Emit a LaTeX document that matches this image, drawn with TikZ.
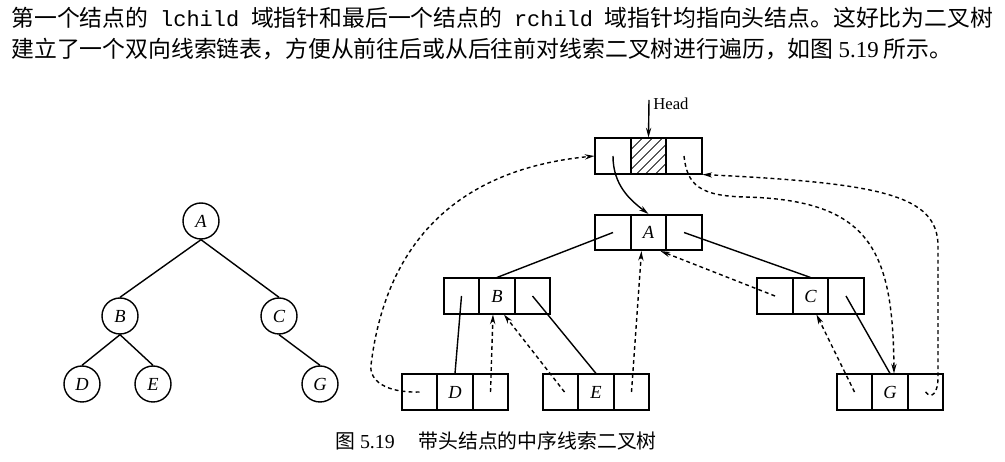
\documentclass[tikz,border=0pt]{standalone}
\usepackage{fontspec}
\setmainfont{Liberation Serif}
\setmonofont{Liberation Mono}
\newfontfamily\cjk{Noto Sans CJK SC}
\usetikzlibrary{calc,arrows.meta,patterns.meta}
\tikzset{
  tbox/.style={draw,line width=0.9pt,minimum width=2.13cm,minimum height=0.71cm,inner sep=0pt,
    font=\fontsize{10.5}{12}\selectfont\itshape,
    path picture={
      \draw[line width=0.9pt] ($(path picture bounding box.south west)!1/3!(path picture bounding box.south east)$) -- ($(path picture bounding box.north west)!1/3!(path picture bounding box.north east)$);
      \draw[line width=0.9pt] ($(path picture bounding box.south west)!2/3!(path picture bounding box.south east)$) -- ($(path picture bounding box.north west)!2/3!(path picture bounding box.north east)$);
    }},
  tnode/.style={draw,circle,line width=0.8pt,minimum size=0.72cm,inner sep=0pt,font=\fontsize{10.5}{12}\selectfont\itshape},
  tedge/.style={line width=0.8pt},
  link/.style={line width=0.8pt},
  arr/.style={-{Stealth[length=5.5pt,width=3pt]}},
  thr/.style={arr,line width=0.8pt,dash pattern=on 2.2pt off 1.8pt},
  body/.style={font=\fontsize{13}{15}\selectfont},
}
\newcommand{\mycode}[1]{{\fontsize{12.5}{15}\selectfont\ttfamily #1}}
\begin{document}
\begin{tikzpicture}[x=0.02cm,y=-0.02cm]
\fill[white] (0,0) rectangle (1005,462);
\useasboundingbox (0,0) rectangle (1005,462);

% text
\node[body,anchor=west,inner sep=0pt] (t1) at (11,18) {\makebox[19.64cm][s]{\cjk 第一个结点的 \mycode{lchild} 域指针和最后一个结点的 \mycode{rchild} 域指针均指向头结点。这好比为二叉树}};
\node[body,anchor=west,inner sep=0pt] (t2) at (11,49) {\cjk 建立了一个双向线索链表，方便从前往后或从后往前对线索二叉树进行遍历，如图 {\rmfamily 5.19} 所示。};
\node[font=\fontsize{11.3}{13}\selectfont,inner sep=0pt] (cap) at (496,441) {{\cjk 图} 5.19\hspace{1.2em}{\cjk 带头结点的中序线索二叉树}};

% binary tree
\node[tnode] (a) at (201,221) {A};
\node[tnode] (b) at (120,316) {B};
\node[tnode] (c) at (279,316) {C};
\node[tnode] (d) at (82,384) {D};
\node[tnode] (e) at (153,384) {E};
\node[tnode] (g) at (320,384) {G};
\draw[tedge] (a.south) -- (b.north);
\draw[tedge] (a.south) -- (c.north);
\draw[tedge] (b.south) -- (d.north);
\draw[tedge] (b.south) -- (e.north);
\draw[tedge] (c.south) -- (g.north);

% threaded tree
\node[tbox] (Hd) at (648.5,156) {};
\fill[pattern={Lines[angle=45,distance=4pt,line width=0.5pt]}] ($(Hd.south west)!1/3!(Hd.south east)$) rectangle ($(Hd.north west)!2/3!(Hd.north east)$);
\node[tbox] (A) at (648.5,232.5) {A};
\node[tbox] (B) at (497,296) {B};
\node[tbox] (C) at (810.5,296) {C};
\node[tbox] (D) at (455,392) {D};
\node[tbox] (E) at (596,392) {E};
\node[tbox] (G) at (890,392) {G};
\foreach \n in {Hd,A,B,C,D,E,G}{
  \coordinate (\n-l) at ($(\n)+(-35.5,0)$);
  \coordinate (\n-r) at ($(\n)+(35.5,0)$);
}
\coordinate (hin) at (649,100);
\node[anchor=west,inner sep=0pt,font=\fontsize{9.5}{11}\selectfont] (hlab) at (653,104) {Head};
\draw[link,arr] (hin) -- (Hd.north);

% solid links
\draw[link,arr] (Hd-l) .. controls (613,185) and (630,200) .. (A.north);
\draw[link] (A-l) -- (B.north);
\draw[link] (A-r) -- (C.north);
\draw[link] (B-l) -- (D.north);
\draw[link] (B-r) -- (E.north);
\draw[link] (C-r) -- (G.north);

% threads
\draw[thr] (D-l) .. controls (385,393) and (369,380) .. (371,365) .. controls (385,250) and (450,170) .. (Hd.west);
\draw[thr] (D-r) -- ($(B.south)+(-4,0)$);
\draw[thr] ($(E-l)+(4,0)$) -- ($(B.south)+(7,0)$);
\draw[thr] (E-r) -- ($(A.south)+(-7,0)$);
\draw[thr] (C-l) -- ($(A.south)+(12,0)$);
\draw[thr] (G-l) -- ($(C.south)+(6,0)$);
\draw[thr] (Hd-r) .. controls (687,185) and (700,196) .. (745,197) .. controls (870,200) and (893,250) .. ($(G.north)+(4,0)$);
\draw[thr] (G-r) .. controls (932,400) and (938,392) .. (938,378) -- (938,245) .. controls (937,195) and (880,183) .. (Hd.south east);
\end{tikzpicture}
\end{document}
